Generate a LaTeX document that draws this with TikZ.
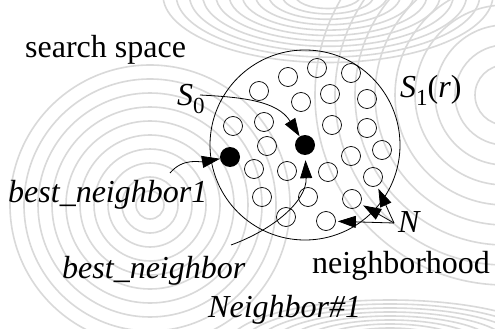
\documentclass[tikz,border=0pt]{standalone}
\usepackage{fontspec}
\setmainfont{Liberation Serif}
\usetikzlibrary{arrows.meta}
\begin{document}
\begin{tikzpicture}[x=1pt,y=-1pt,
  lbl/.style={anchor=base west,inner sep=0pt,font=\fontsize{32}{32}\selectfont},
  ilbl/.style={anchor=base west,inner sep=0pt,font=\fontsize{32}{32}\selectfont\itshape},
  nb/.style={circle,draw,line width=0.7pt,minimum size=19pt,inner sep=0pt},
  best/.style={circle,fill=black,minimum size=20pt,inner sep=0pt},
  region/.style={circle,draw,line width=0.8pt,minimum size=190pt,inner sep=0pt},
  conn/.style={line width=0.8pt,-{Triangle[length=18pt,width=12pt]}},
  contour/.style={gray!30,line width=1.6pt}]
\useasboundingbox (0,0) rectangle (495,329);
\fill[white] (0,0) rectangle (495,329);
% background contour texture
\begin{scope}
\clip (0,0) rectangle (495,329);
\foreach \r in {14,28,...,140} \draw[contour] (150,205) circle[radius=\r];
\foreach \r in {30,42,...,150} \draw[contour] (328,-5) ellipse[x radius=1.1*\r, y radius=0.45*\r];
\foreach \r in {30,50,...,190} \draw[contour] (505,95) circle[radius=\r];
\foreach \r in {10,18,...,90} \draw[contour] (390,345) ellipse[x radius=1.8*\r, y radius=0.5*\r];
\end{scope}
% labels
\node[lbl] (ss) at (25,58) {search space};
\node[lbl] (nh) at (312,273) {neighborhood};
\node[ilbl] (bn1) at (8,202) {best\_neighbor1};
\node[ilbl] (bn) at (62,278) {best\_neighbor};
\node[ilbl] (nb1) at (208,317) {Neighbor\#1};
\node[ilbl] (Nl) at (398,232) {N};
\node[lbl] (s0) at (177,105) {\textit{S}\raisebox{-0.25em}{\fontsize{23}{23}\selectfont 0}};
\node[lbl] (s1) at (400,97) {\textit{S}\raisebox{-0.25em}{\fontsize{23}{23}\selectfont 1}(\textit{r})};
% region
\node[region] (R) at (305,145) {};
% neighbours
\foreach \n/\x/\y in {1/288/77,2/317/68,3/351/73,4/259/91,5/301/102,6/330/94,7/367/99,
  8/233/126,9/264/122,10/332/125,11/367/128,12/267/146,13/351/156,14/382/150,
  15/254/169,16/287/171,17/328/172,18/373/177,19/262/197,20/308/197,21/352/199,
  22/286/217,23/326/221}
  \node[nb] (c\n) at (\x,\y) {};
\node[best] (A) at (305,145) {};
\node[best] (B) at (230,157) {};
% connectors
\coordinate (s0s) at (200,95);
\coordinate (b1s) at (170,173);
\coordinate (bns) at (231,245);
\coordinate (Np) at (394,223);
\draw[conn] (s0s) to[out=-3,in=122] (A);
\draw[conn] (b1s) to[out=50,in=190] (B);
\draw[conn,shorten >=5pt] (bns) to[out=20,in=-88] (A);
\draw[conn,shorten >=2pt] (Np) -- (c23);
\draw[conn,shorten >=3pt] (Np) -- (c21);
\draw[conn,shorten >=3pt] (Np) -- (c18);
\end{tikzpicture}
\end{document}
